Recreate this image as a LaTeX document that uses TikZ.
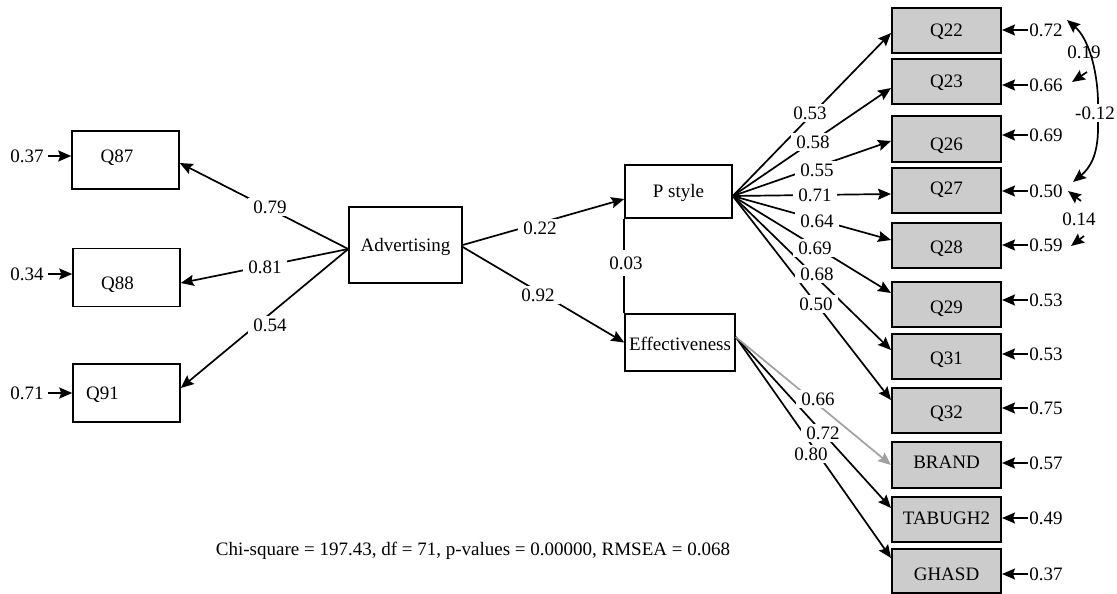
\documentclass[tikz,border=0pt]{standalone}
\usepackage{fontspec}
\setmainfont{Liberation Serif}
\usetikzlibrary{arrows.meta}
\definecolor{boxgray}{HTML}{CCCCCC}
\definecolor{arrgray}{HTML}{A0A0A0}
\newcommand\sh[3]{\hspace*{#1}\raisebox{#2}{#3}\hspace*{-#1}}
\begin{document}
\begin{tikzpicture}[x=1pt,y=-1pt,
  font=\fontsize{19}{22}\selectfont,
  tip/.tip={Stealth[length=13pt,width=11pt,inset=2pt]},
  arr/.style={line width=1.7pt,-tip},
  cov/.style={line width=1.7pt,tip-tip},
  obsL/.style={draw,line width=1.5pt,fill=white,minimum width=107pt,minimum height=58pt,inner sep=0pt,text height=12.6pt,text depth=0pt},
  lat/.style={draw,line width=1.5pt,fill=white,inner sep=0pt,text height=12.6pt,text depth=0pt},
  obsR/.style={draw=black,fill=boxgray,line width=2pt,minimum width=109pt,minimum height=45pt,inner sep=0pt,text height=12.6pt,text depth=0pt},
  lab/.style={fill=white,inner xsep=5pt,inner ysep=3pt,text height=12.8pt,text depth=0pt},
  err/.style={inner sep=1pt,text height=12.8pt,text depth=0pt}]
\useasboundingbox (0,0) rectangle (1117,594);

% left indicators
\node[obsL] (q87) at (125.5,160) {\sh{-8.5pt}{4pt}{Q87}};
\node[obsL] (q88) at (126.5,277.5) {\sh{-9pt}{-5.5pt}{Q88}};
\node[obsL] (q91) at (126.5,393) {\sh{-24pt}{0pt}{Q91}};
% latent
\node[lat,minimum width=113pt,minimum height=76pt] (adv) at (405.5,245) {Advertising};
\node[lat,minimum width=107pt,minimum height=53pt] (ps) at (678.5,191.5) {P style};
\node[lat,minimum width=110pt,minimum height=57pt] (eff) at (680,342.5) {\sh{0pt}{-1.5pt}{Effectiveness}};
% right indicators
\node[obsR] (q22) at (946.5,30.5) {Q22};
\node[obsR] (q23) at (946.5,81.5) {Q23};
\node[obsR,minimum height=46pt] (q26) at (946.5,139) {\sh{0pt}{-5pt}{Q26}};
\node[obsR] (q27) at (946.5,190.5) {\sh{0pt}{2.5pt}{Q27}};
\node[obsR] (q28) at (946.5,245.5) {\sh{0pt}{-2pt}{Q28}};
\node[obsR] (q29) at (946.5,304.5) {\sh{0pt}{-2.5pt}{Q29}};
\node[obsR] (q31) at (946.5,356.5) {\sh{0pt}{-1.5pt}{Q31}};
\node[obsR] (q32) at (946.5,410.5) {\sh{0pt}{-1.5pt}{Q32}};
\node[obsR,minimum height=46pt] (brand) at (946.5,465) {\sh{0pt}{3pt}{BRAND}};
\node[obsR] (tab) at (946.5,519.5) {\sh{0pt}{1.5pt}{TABUGH2}};
\node[obsR,minimum height=44pt] (gha) at (946.5,571) {\sh{0pt}{-3pt}{GHASD}};

% left error terms
\node[err] (e87) at (27,156) {0.37};
\node[err] (e88) at (27,274) {0.34};
\node[err] (e91) at (27,393) {0.71};
\foreach \e/\q in {e87/q87,e88/q88,e91/q91}
  \draw[arr,shorten <=3pt] (\e.east) -- (\e.east -| \q.west);

% right error terms
\node[err] (e22) at (1046,30) {0.72};
\node[err] (e23) at (1046,85) {0.66};
\node[err] (e26) at (1046,135) {0.69};
\node[err] (e27) at (1046,191) {0.50};
\node[err] (e28) at (1046,245) {0.59};
\node[err] (e29) at (1046,300) {0.53};
\node[err] (e31) at (1046,354) {0.53};
\node[err] (e32) at (1046,408) {0.75};
\node[err] (ebr) at (1046,463) {0.57};
\node[err] (eta) at (1046,518) {0.49};
\node[err] (egh) at (1046,574) {0.37};
\foreach \e/\q in {e22/q22,e23/q23,e26/q26,e27/q27,e28/q28,e29/q29,e31/q31,e32/q32,ebr/brand,eta/tab,egh/gha}
  \draw[arr] (\e.west) -- (\e.west -| \q.east);

% Advertising loadings
\draw[arr] ([yshift=-4pt]adv.west) -- ([yshift=-3pt]q87.east);
\draw[arr] ([yshift=-4pt]adv.west) -- ([yshift=-5.5pt]q88.east);
\draw[arr] ([yshift=-4pt]adv.west) -- ([yshift=5pt]q91.east);
% structural paths
\draw[arr] (adv.east) -- ([yshift=-7.5pt]ps.west);
\draw[arr] ([yshift=-2pt]adv.east) -- (eff.west);
\draw[line width=1.7pt] (ps.south west) -- (eff.north west);
% P style loadings
\draw[arr] ([yshift=-4.5pt]ps.east) -- ([yshift=-2.5pt]q22.west);
\draw[arr] ([yshift=-4.5pt]ps.east) -- ([yshift=-6.5pt]q23.west);
\draw[arr] ([yshift=-4.5pt]ps.east) -- ([yshift=-2pt]q26.west);
\draw[arr] ([yshift=-4.5pt]ps.east) -- ([yshift=-3.5pt]q27.west);
\draw[arr] ([yshift=-4.5pt]ps.east) -- ([yshift=5.5pt]q28.west);
\draw[arr] ([yshift=-4.5pt]ps.east) -- ([yshift=11.5pt]q29.west);
\draw[arr] ([yshift=-4.5pt]ps.east) -- ([yshift=6.5pt]q31.west);
\draw[arr] ([yshift=-4.5pt]ps.east) -- ([yshift=10.5pt]q32.west);
% Effectiveness loadings
\draw[arr] ([yshift=5.5pt]eff.east) -- ([yshift=11.5pt]tab.west);
\draw[arr] ([yshift=5.5pt]eff.east) -- ([yshift=13pt]gha.west);

% path labels
\node[lab] at (270,207) {0.79};
\node[lab] at (265,267) {0.81};
\node[lab] at (270,325) {0.54};
\node[lab] at (540,228) {0.22};
\node[lab] at (538,295) {0.92};
\node[lab,inner ysep=7pt] at (626,263) {0.03};
\node[lab] at (810,113) {0.53};
\node[lab] at (813,142) {0.58};
\node[lab] at (817,170) {0.55};
\node[lab] at (815,195) {0.71};
\node[lab] at (817,221) {0.64};
\node[lab] at (815,248) {0.69};
\node[lab] at (817,274) {0.68};
\node[lab] at (816,304) {0.50};
\node[lab] at (823,433) {0.72};
\node[lab] at (811,454) {0.80};
% grey loading drawn over the neighbouring labels, broken only by its own
\draw[arr,draw=arrgray,fill=arrgray] ([yshift=5.5pt]eff.east) -- (brand.west);
\node[lab] at (818,399) {0.66};

% error covariances
\coordinate (c22) at (1067,20);
\coordinate (c23) at (1072,82);
\coordinate (t23) at (1087,72);
\coordinate (c27a) at (1073,182);
\coordinate (c27b) at (1068,191);
\coordinate (t27b) at (1081,201);
\coordinate (c28) at (1071,246);
\coordinate (t28) at (1084,236);
\node[err] at (1084,52) {0.19};
\draw[cov] (c22) .. controls (1088,38) and (1097,68) .. (1098,100) -- (1098,128) .. controls (1098,155) and (1090,168) .. (c27a);
\node[lab,inner ysep=3pt] at (1095,113) {-0.12};
\draw[arr] (t23) -- (c23);
\draw[arr] (t27b) -- (c27b);
\draw[arr] (t28) -- (c28);
\node[err] at (1079,219) {0.14};

% fit statistics
\node[err] (fit) at (473,549) {Chi-square = 197.43, df = 71, p-values = 0.00000, RMSEA = 0.068};
\end{tikzpicture}
\end{document}
